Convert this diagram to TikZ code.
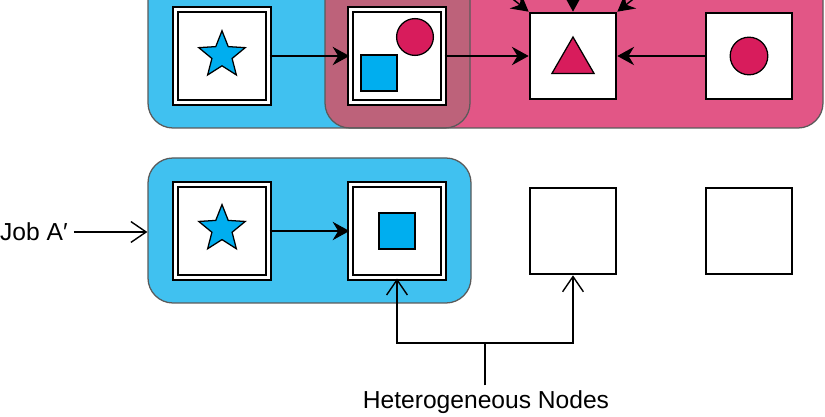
\documentclass[tikz,border=0pt]{standalone}
\usepackage{fontspec}
\setmainfont{Liberation Sans}
\usetikzlibrary{arrows.meta,positioning,calc,shapes.geometric}
\definecolor{grpblue}{RGB}{64,193,240}
\definecolor{grppink}{RGB}{226,86,134}
\definecolor{grpmix}{RGB}{189,98,122}
\definecolor{shpblue}{RGB}{0,174,239}
\definecolor{shppink}{RGB}{216,28,92}
\definecolor{rimgray}{RGB}{90,90,90}

\begin{document}
\begin{tikzpicture}[
    grp/.style={rectangle, draw=rimgray, line width=0.9pt, rounded corners=0.625cm, fill=#1, inner sep=0pt},
    dbox/.style={rectangle, draw, fill=white, double=white, double distance=2.2pt, line width=1.4pt, minimum size=2.33cm, inner sep=0pt},
    sbox/.style={rectangle, draw, fill=white, line width=1.3pt, minimum size=2.17cm, inner sep=0pt},
    shp/.style={draw, line width=0.9pt, fill=#1, inner sep=0pt},
    arr/.style={-{Stealth[length=4.2mm, width=4.6mm, inset=1.4mm]}, line width=1pt},
    oarr/.style={-{Straight Barb[length=3.8mm, width=5.2mm]}, line width=1pt},
    lbl/.style={font=\fontsize{17.5}{21}\selectfont}
]
\useasboundingbox (0,0) rectangle (20.625,10.425);
\clip (0,0) rectangle (20.625,10.425);

% groups of the upper job (cut off at the top)
\fill[grpblue, rounded corners=0.625cm] (3.7,7.225) rectangle (11.75,11.5);
\fill[grppink, rounded corners=0.625cm] (8.125,7.225) rectangle (20.575,11.5);
\begin{scope}
  \clip[rounded corners=0.625cm] (3.7,7.225) rectangle (11.75,11.5);
  \fill[grpmix, rounded corners=0.625cm] (8.125,7.225) rectangle (20.575,11.5);
\end{scope}
\draw[rimgray, line width=0.9pt, rounded corners=0.625cm] (3.7,7.225) rectangle (11.75,11.5);
\draw[rimgray, line width=0.9pt, rounded corners=0.625cm] (8.125,7.225) rectangle (20.575,11.5);

% group of job A'
\node[grp=grpblue, minimum width=8.075cm, minimum height=3.625cm] (grpA) at (7.7375,4.6625) {};

% upper row
\node[dbox] (s1) at (5.55,9.025) {};
\node[dbox] (q1) at (9.925,9.025) {};
\node[sbox] (t1) at (14.325,9.025) {};
\node[sbox] (c1) at (18.725,9.025) {};

\node[shp=shpblue, star, star points=5, star point ratio=2.3, minimum size=1.22cm] (s1star) at ($(s1)+(0,0.02)$) {};
\node[shp=shpblue, rectangle, minimum size=0.9cm] (q1sq) at ($(q1)+(-0.45,-0.425)$) {};
\node[shp=shppink, circle, minimum size=0.92cm] (q1ci) at ($(q1)+(0.45,0.475)$) {};
\node[shp=shppink, regular polygon, regular polygon sides=3, minimum size=1.22cm] (t1tri) at ($(t1)+(0,-0.135)$) {};
\node[shp=shppink, circle, minimum size=0.94cm] (c1ci) at (c1) {};

\coordinate (inNW) at (12.0,11.1);
\coordinate (inN) at (14.325,11.3);
\coordinate (inNE) at (16.65,11.1);

\draw[arr] (s1) -- (q1);
\draw[arr] (q1) -- (t1);
\draw[arr] (c1) -- (t1);
\draw[arr] (inNW) -- (t1.north west);
\draw[arr] (inN) -- (t1.north);
\draw[arr] (inNE) -- (t1.north east);

% lower row
\node[dbox] (s2) at (5.55,4.65) {};
\node[dbox] (q2) at (9.925,4.65) {};
\node[sbox] (e1) at (14.325,4.65) {};
\node[sbox] (e2) at (18.725,4.65) {};

\node[shp=shpblue, star, star points=5, star point ratio=2.3, minimum size=1.22cm] (s2star) at ($(s2)+(0,0.05)$) {};
\node[shp=shpblue, rectangle, minimum size=0.9cm] (q2sq) at (q2) {};

\draw[arr] (s2) -- (q2);

\node[lbl, anchor=east, inner sep=0pt] (jobA) at (1.7,4.625) {Job A′};
\draw[oarr] ($(jobA.east)+(0.15,0)$) -- (grpA.west |- jobA.east);

\node[lbl] (het) at (12.15,0.38) {Heterogeneous Nodes};
\coordinate (join) at (12.125,1.85);
\draw[line width=1pt] (het.north -| join) -- (join);
\draw[oarr] (join) -| (q2.south);
\draw[oarr] (join) -| (e1.south);
\end{tikzpicture}
\end{document}
